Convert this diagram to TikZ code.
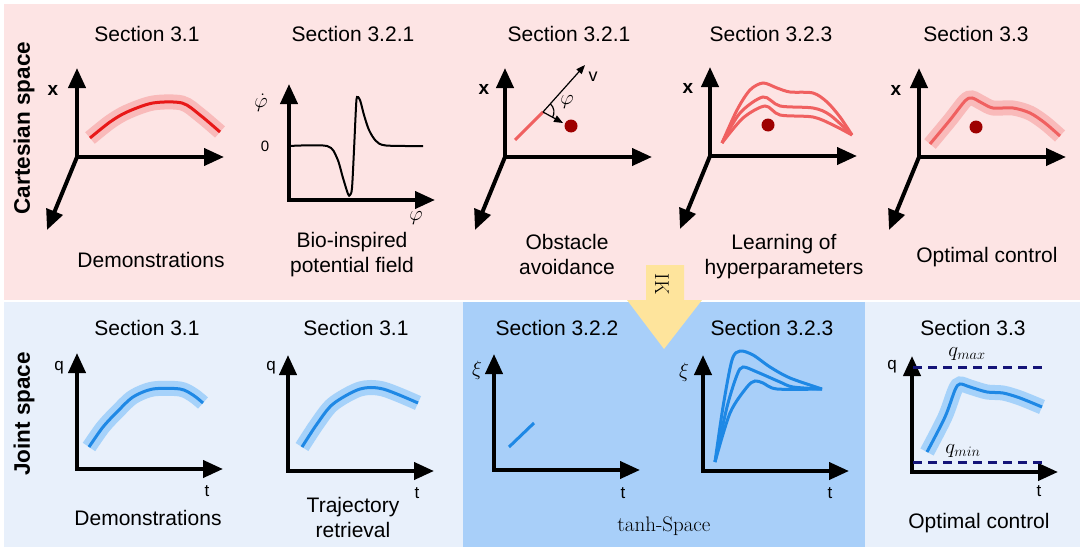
\documentclass[tikz,border=0pt]{standalone}
\usepackage{fontspec}
\setsansfont{Liberation Sans}
\usetikzlibrary{arrows.meta}

\definecolor{pinkbg}{RGB}{253,228,228}
\definecolor{jointbg}{RGB}{232,240,251}
\definecolor{tanhbg}{RGB}{168,207,249}
\definecolor{ikyellow}{RGB}{254,228,156}
\definecolor{trajred}{RGB}{232,24,24}
\definecolor{softred}{RGB}{240,96,96}
\definecolor{bandred}{RGB}{249,186,186}
\definecolor{trajblue}{RGB}{30,136,229}
\definecolor{bandblue}{RGB}{166,210,250}
\definecolor{obstred}{RGB}{158,0,0}
\definecolor{limitnavy}{RGB}{20,20,120}

\tikzset{
  title/.style={font=\sffamily\fontsize{21}{25}\selectfont, anchor=base, inner sep=0pt},
  caption/.style={font=\sffamily\fontsize{21}{25}\selectfont, align=center, anchor=north, inner sep=0pt},
  side/.style={font=\sffamily\bfseries\fontsize{22.5}{26}\selectfont, rotate=90, inner sep=0pt},
  axislabel/.style={font=\sffamily\fontsize{17}{20}\selectfont, inner sep=0pt},
  boldlabel/.style={font=\sffamily\bfseries\fontsize{19}{22}\selectfont, inner sep=0pt},
  mathlabel/.style={font=\fontsize{21}{24}\selectfont, inner sep=0pt},
  axis/.style={line width=4pt, line join=miter, >={Triangle[length=20pt,width=17pt]}},
  thinarrow/.style={line width=1.2pt, -{Triangle[length=9pt,width=7pt]}},
  redtraj/.style={draw=trajred, line width=3pt, preaction={draw=bandred, line width=15pt}},
  softtraj/.style={draw=softred, line width=3pt, preaction={draw=bandred, line width=15pt}},
  bluetraj/.style={draw=trajblue, line width=3pt, preaction={draw=bandblue, line width=15pt}},
  redline/.style={draw=softred, line width=3pt},
  blueline/.style={draw=trajblue, line width=3pt},
  obstacle/.style={circle, fill=obstred, minimum size=13pt, inner sep=0pt},
  limit/.style={draw=limitnavy, line width=3pt, dash pattern=on 9pt off 6pt},
  pics/cartaxes/.style={code={
    \draw[axis,<->] (0,89) -- (0,0) -- (147,0);
    \draw[axis,->] (0,0) -- (-30,-73);
  }},
  pics/jointaxes/.style={code={
    \draw[axis,<->] (0,116) -- (0,0) -- (146,0);
  }},
}

\begin{document}
\begin{tikzpicture}[x=1pt, y=1pt]
\useasboundingbox (0,0) rectangle (1084,-551);

% backgrounds
\fill[pinkbg] (4,-4) rectangle (1080,-300);
\fill[jointbg] (4,-302) rectangle (1080,-547);
\fill[tanhbg] (463,-302) rectangle (865,-547);
\fill[ikyellow] (646,-265) -- (684,-265) -- (684,-300) -- (702,-300)
  -- (664,-349) -- (627,-300) -- (646,-300) -- cycle;
\node[rotate=-90, font=\rmfamily\fontsize{20}{22}\selectfont, inner sep=0pt] (ik) at (662,-284) {IK};

\node[side] (cart) at (24,-128) {Cartesian space};
\node[side] (joint) at (24,-414) {Joint space};

% ---- Cartesian space ----
% demonstrations
\node[title] (t1) at (147,-42) {Section 3.1};
\pic at (77,-157) {cartaxes};
\node[boldlabel] (x1) at (53,-90) {x};
\draw[redtraj] plot[smooth] coordinates {(90,-138) (110,-122) (127,-112) (153,-103) (182,-103) (200,-115) (220,-132)};
\node[caption] (c1) at (151,-252) {Demonstrations};

% potential field
\node[title] (t2) at (353,-42) {Section 3.2.1};
\pic at (289,-200) {jointaxes};
\node[mathlabel] (phidot) at (261,-103) {$\dot\varphi$};
\node[axislabel, font=\sffamily\fontsize{15}{18}\selectfont] (zero) at (265,-146) {0};
\draw[line width=2pt] plot[smooth, tension=0.5] coordinates {(289,-146) (327,-146) (337,-158) (343,-178) (348,-194) (350,-195) (352,-188) (354,-150) (356,-107) (357,-97) (360,-100) (364,-115) (369,-130) (376,-141) (386,-145.5) (423,-146)};
\node[mathlabel] (phi) at (416,-218) {$\varphi$};
\node[caption] (c2) at (352,-232) {Bio-inspired\\potential field};

% obstacle avoidance
\node[title] (t3) at (569,-42) {Section 3.2.1};
\pic at (505,-157) {cartaxes};
\node[boldlabel] (x3) at (484,-89) {x};
\coordinate (vs) at (543,-112);
\coordinate (vtip) at (585,-65);
\coordinate (otip) at (563,-123);
\draw[redline] (515,-140) -- (vs);
\draw[thinarrow] (vs) -- (vtip);
\draw[thinarrow] (vs) -- (otip);
\draw[line width=1.2pt] (vs) ++(48:11) arc[start angle=48, end angle=-30, radius=11];
\node[axislabel, font=\sffamily\fontsize{18}{20}\selectfont] (v) at (593,-77) {v};
\node[mathlabel] (phi3) at (567,-102) {$\varphi$};
\node[obstacle] (obs3) at (571,-126) {};
\node[caption] (c3) at (567,-234) {Obstacle\\avoidance};

% hyperparameters
\node[title] (t4) at (771,-42) {Section 3.2.3};
\pic at (710,-156) {cartaxes};
\node[boldlabel] (x4) at (688,-88) {x};
\draw[redline] plot[smooth] coordinates {(722,-143) (737,-110) (750,-90) (763,-83) (777,-88) (790,-92) (813,-93) (827,-102) (840,-117) (852,-135)};
\draw[redline] plot[smooth] coordinates {(722,-143) (740,-113) (763,-97) (780,-106) (813,-108) (830,-115) (852,-135)};
\draw[redline] plot[smooth] coordinates {(722,-143) (743,-118) (765,-106) (780,-115) (813,-117) (833,-125) (852,-135)};
\node[obstacle] (obs4) at (768,-125) {};
\node[caption] (c4) at (784,-234) {Learning of\\hyperparameters};

% optimal control
\node[title] (t5) at (976,-42) {Section 3.3};
\pic at (919,-157) {cartaxes};
\node[boldlabel] (x5) at (896,-90) {x};
\draw[softtraj] plot[smooth] coordinates {(930,-144) (950,-120) (965,-101) (972,-98) (982,-103) (993,-108) (1013,-108) (1030,-113) (1045,-123) (1060,-136)};
\node[obstacle] (obs5) at (976,-127) {};
\node[caption] (c5) at (987,-247) {Optimal control};

% ---- Joint space ----
\node[title] (j1) at (147,-335) {Section 3.1};
\pic at (77,-469) {jointaxes};
\node[axislabel] (q1) at (59,-368) {q};
\node[axislabel] (tt1) at (207,-491) {t};
\draw[bluetraj] plot[smooth] coordinates {(89,-447) (103,-427) (117,-412) (133,-397) (153,-389) (180,-389) (193,-395) (203,-403)};
\node[caption] (d1) at (148,-510) {Demonstrations};

\node[title] (j2) at (356,-335) {Section 3.1};
\pic at (288,-471) {jointaxes};
\node[axislabel] (q2) at (271,-368) {q};
\node[axislabel] (tt2) at (417,-493) {t};
\draw[bluetraj] plot[smooth] coordinates {(302,-447) (317,-424) (333,-404) (360,-389) (383,-389) (418,-403)};
\node[caption] (d2) at (353,-497) {Trajectory\\retrieval};

\node[title] (j3) at (557,-335) {Section 3.2.2};
\pic at (494,-470) {jointaxes};
\node[mathlabel, font=\fontsize{20}{22}\selectfont] (xi3) at (477,-370) {$\xi$};
\node[axislabel] (tt3) at (623,-493) {t};
\draw[blueline] (509,-447) -- (534,-423);

\node[title] (j4) at (772,-335) {Section 3.2.3};
\pic at (703,-471) {jointaxes};
\node[mathlabel, font=\fontsize{20}{22}\selectfont] (xi4) at (684,-372) {$\xi$};
\node[axislabel] (tt4) at (830,-493) {t};
\draw[blueline] plot[smooth] coordinates {(715,-462) (723,-407) (732,-360) (740,-351) (753,-355) (770,-367) (790,-378) (822,-389)};
\draw[blueline] plot[smooth] coordinates {(715,-462) (727,-407) (737,-375) (743,-367) (757,-372) (780,-382) (793,-387) (822,-389)};
\draw[blueline] plot[smooth] coordinates {(715,-462) (730,-413) (747,-387) (755,-381) (763,-383) (777,-389) (822,-389)};
\node[font=\rmfamily\fontsize{21}{24}\selectfont, anchor=base, inner sep=0pt] (tanh) at (664,-531) {tanh-Space};

\node[title] (j5) at (973,-335) {Section 3.3};
\pic at (912,-472) {jointaxes};
\node[axislabel] (q5) at (892,-367) {q};
\node[axislabel] (tt5) at (1039,-491) {t};
\draw[limit] (913,-367) -- (1045,-367);
\draw[limit] (913,-462) -- (1045,-462);
\node[mathlabel] (qmax) at (967,-354) {$q_{max}$};
\node[mathlabel] (qmin) at (963,-451) {$q_{min}$};
\draw[bluetraj] plot[smooth] coordinates {(927,-452) (945,-417) (955,-390) (960,-384) (970,-387) (987,-392) (1003,-393) (1020,-398) (1042,-407)};
\node[caption] (d5) at (979,-513) {Optimal control};
\end{tikzpicture}
\end{document}
